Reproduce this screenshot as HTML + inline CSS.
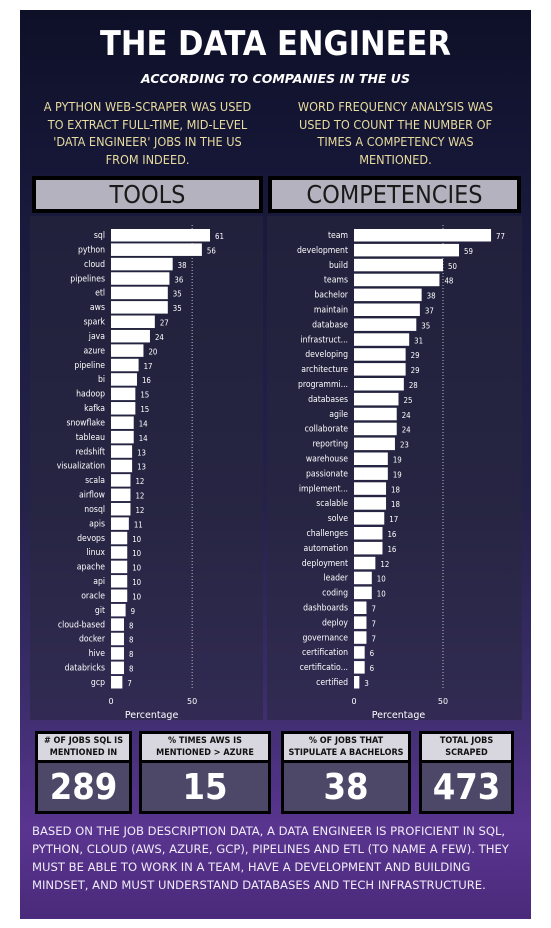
<!DOCTYPE html>
<html><head><meta charset="utf-8">
<style>
*{margin:0;padding:0;box-sizing:border-box}
body{width:551px;height:928px;background:#fff;position:relative;overflow:hidden;font-family:"DejaVu Sans","Liberation Sans",sans-serif}
#bg{position:absolute;left:20px;top:10px;width:511px;height:909px;background:linear-gradient(180deg,#0e1028 0%,#1a1a3e 25%,#25224a 55%,#3a2d6a 75%,#5a3590 90%,#4a2a7a 100%)}
.t{position:absolute;color:#fff;text-align:center}
.hdr{position:absolute;height:37px;border:4px solid #000;background:#b5b2bf;color:#1a1a1a;font-size:25px;text-align:center;line-height:29px;font-family:"DejaVu Sans Condensed","DejaVu Sans",sans-serif}
.panel{position:absolute;top:216px;height:504px;background:rgba(40,40,60,0.55)}
.kpi{position:absolute;top:731px;height:83px;border:3px solid #000;background:#4e4868}
.kpi .h{height:29px;background:#d8d6de;border-bottom:3px solid #000;color:#111;font-size:9px;font-weight:bold;text-align:center;line-height:11.5px;padding-top:2px;white-space:nowrap;font-family:"DejaVu Sans Condensed","DejaVu Sans",sans-serif}
.kpi .n{color:#fff;font-size:36px;font-weight:bold;text-align:center;line-height:50px;font-family:"DejaVu Sans Condensed","DejaVu Sans",sans-serif}
</style></head><body>
<div id="bg"></div>
<div class="t" style="left:20px;width:511px;top:24px;font-size:34px;font-weight:bold;font-family:'DejaVu Sans Condensed','DejaVu Sans',sans-serif">THE DATA ENGINEER</div>
<div class="t" style="left:20px;width:511px;top:71px;font-size:12.5px;font-weight:bold;font-style:italic">ACCORDING TO COMPANIES IN THE US</div>
<div class="t" style="left:20px;width:255px;top:98px;font-size:12.6px;line-height:17.5px;color:#e8dca0;white-space:nowrap;font-family:'DejaVu Sans Condensed','DejaVu Sans',sans-serif">A PYTHON WEB-SCRAPER WAS USED<br>TO EXTRACT FULL-TIME, MID-LEVEL<br>'DATA ENGINEER' JOBS IN THE US<br>FROM INDEED.</div>
<div class="t" style="left:268px;width:255px;top:98px;font-size:12.6px;line-height:17.5px;color:#e8dca0;white-space:nowrap;font-family:'DejaVu Sans Condensed','DejaVu Sans',sans-serif">WORD FREQUENCY ANALYSIS WAS<br>USED TO COUNT THE NUMBER OF<br>TIMES A COMPETENCY WAS<br>MENTIONED.</div>
<div class="hdr" style="left:32px;top:176px;width:231px">TOOLS</div>
<div class="hdr" style="left:268px;top:176px;width:253px">COMPETENCIES</div>
<div class="panel" style="left:30px;width:233px"></div>
<div class="panel" style="left:267px;width:255px"></div>
<svg id="charts" width="551" height="928" style="position:absolute;left:0;top:0"></svg>
<div class="kpi" style="left:35px;width:97px"><div class="h"># OF JOBS SQL IS<br>MENTIONED IN</div><div class="n">289</div></div>
<div class="kpi" style="left:139px;width:132px"><div class="h">% TIMES AWS IS<br>MENTIONED &gt; AZURE</div><div class="n">15</div></div>
<div class="kpi" style="left:281px;width:130px"><div class="h">% OF JOBS THAT<br>STIPULATE A BACHELORS</div><div class="n">38</div></div>
<div class="kpi" style="left:419px;width:95px"><div class="h">TOTAL JOBS<br>SCRAPED</div><div class="n">473</div></div>
<div class="t" style="left:32px;width:495px;top:822px;font-size:11.6px;line-height:18px;text-align:left;color:#f0ecf8">BASED ON THE JOB DESCRIPTION DATA, A DATA ENGINEER IS PROFICIENT IN SQL, PYTHON, CLOUD (AWS, AZURE, GCP), PIPELINES AND ETL (TO NAME A FEW). THEY MUST BE ABLE TO WORK IN A TEAM, HAVE A DEVELOPMENT AND BUILDING MINDSET, AND MUST UNDERSTAND DATABASES AND TECH INFRASTRUCTURE.</div>
<script>
const toolCats=["sql","python","cloud","pipelines","etl","aws","spark","java","azure","pipeline","bi","hadoop","kafka","snowflake","tableau","redshift","visualization","scala","airflow","nosql","apis","devops","linux","apache","api","oracle","git","cloud-based","docker","hive","databricks","gcp"];
const toolVals=[61,56,38,36,35,35,27,24,20,17,16,15,15,14,14,13,13,12,12,12,11,10,10,10,10,10,9,8,8,8,8,7];
const compCats=["team","development","build","teams","bachelor","maintain","database","infrastruct...","developing","architecture","programmi...","databases","agile","collaborate","reporting","warehouse","passionate","implement...","scalable","solve","challenges","automation","deployment","leader","coding","dashboards","deploy","governance","certification","certificatio...","certified"];
const compVals=[77,59,50,48,38,37,35,31,29,29,28,25,24,24,23,19,19,18,18,17,16,16,12,10,10,7,7,7,6,6,3];
const axisTicks=[0,50];
const svg=document.getElementById('charts');
const NS='http://www.w3.org/2000/svg';
function mk(tag,attrs,parent){const e=document.createElementNS(NS,tag);for(const k in attrs)e.setAttribute(k,attrs[k]);(parent||svg).appendChild(e);return e;}
function chart(cats,vals,x0,pxPerUnit,yTop,yBot,name){
  const n=cats.length;const step=(yBot-yTop)/(n-1);
  const xs=v=>x0+v*pxPerUnit;
  axisTicks.forEach(t=>{
    if(t>0){const l=mk('line',{x1:xs(t),x2:xs(t),y1:yTop-10,y2:yBot+8,stroke:'#bbb','stroke-dasharray':'1,2','stroke-width':1});
    
    }
    const tx=mk('text',{x:xs(t),y:704,fill:'#fff','font-size':8,'text-anchor':'middle','font-family':'DejaVu Sans, sans-serif'});tx.textContent=t;
    
    
  });
  const xt=mk('text',{x:xs(25),y:718,fill:'#fff','font-size':9.5,'text-anchor':'middle','font-family':'DejaVu Sans, sans-serif'});xt.textContent='Percentage';
  
  
  cats.forEach((c,i)=>{
    const cy=yTop+i*step;
    const r=mk('rect',{x:x0,y:cy-6,width:vals[i]*pxPerUnit,height:12.5,fill:'#fff'});
    
    
    const lb=mk('text',{x:x0-6,y:cy+3,fill:'#fff','font-size':8.6,'text-anchor':'end','font-family':'DejaVu Sans Condensed, DejaVu Sans, sans-serif'});lb.textContent=c;
    
    
    const vl=mk('text',{x:xs(vals[i])+5,y:cy+4,fill:'#fff','font-size':7.8,'font-family':'DejaVu Sans Condensed, DejaVu Sans, sans-serif'});vl.textContent=vals[i];
    
    
  });
}
chart(toolCats,toolVals,111,1.623,235,682,'tools');
chart(compCats,compVals,354,1.78,235,682,'competencies');
</script>
</body></html>
